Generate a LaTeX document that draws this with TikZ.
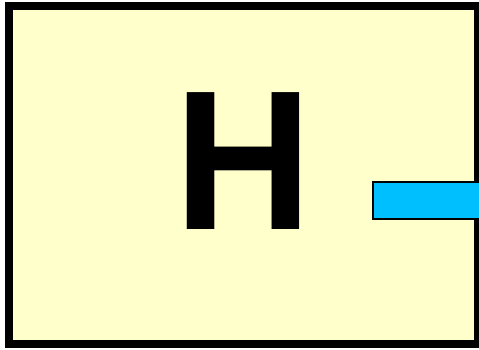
\documentclass[tikz,border=0pt]{standalone}
\usepackage{graphicx}
\usepackage{fontspec}
\setmainfont{Liberation Sans}
\definecolor{paleyellow}{HTML}{FFFFCC}
\definecolor{skyblue}{HTML}{00BFFF}
\begin{document}
\begin{tikzpicture}[x=1pt,y=1pt,
  outerbox/.style={draw=black,fill=paleyellow,line width=8pt},
  portbox/.style={draw=black,fill=skyblue,line width=2pt},
  bigletter/.style={inner sep=0pt,font=\fontsize{199}{199}\selectfont\bfseries}]
\useasboundingbox (0,0) rectangle (479,350);
\draw[outerbox] (9,6) rectangle (478,344);
\node[bigletter] (h) at (243,188.5) {\scalebox{0.96}[1]{H}};
\draw[portbox] (372.5,167.5) rectangle (485,130.5);
\end{tikzpicture}
\end{document}
